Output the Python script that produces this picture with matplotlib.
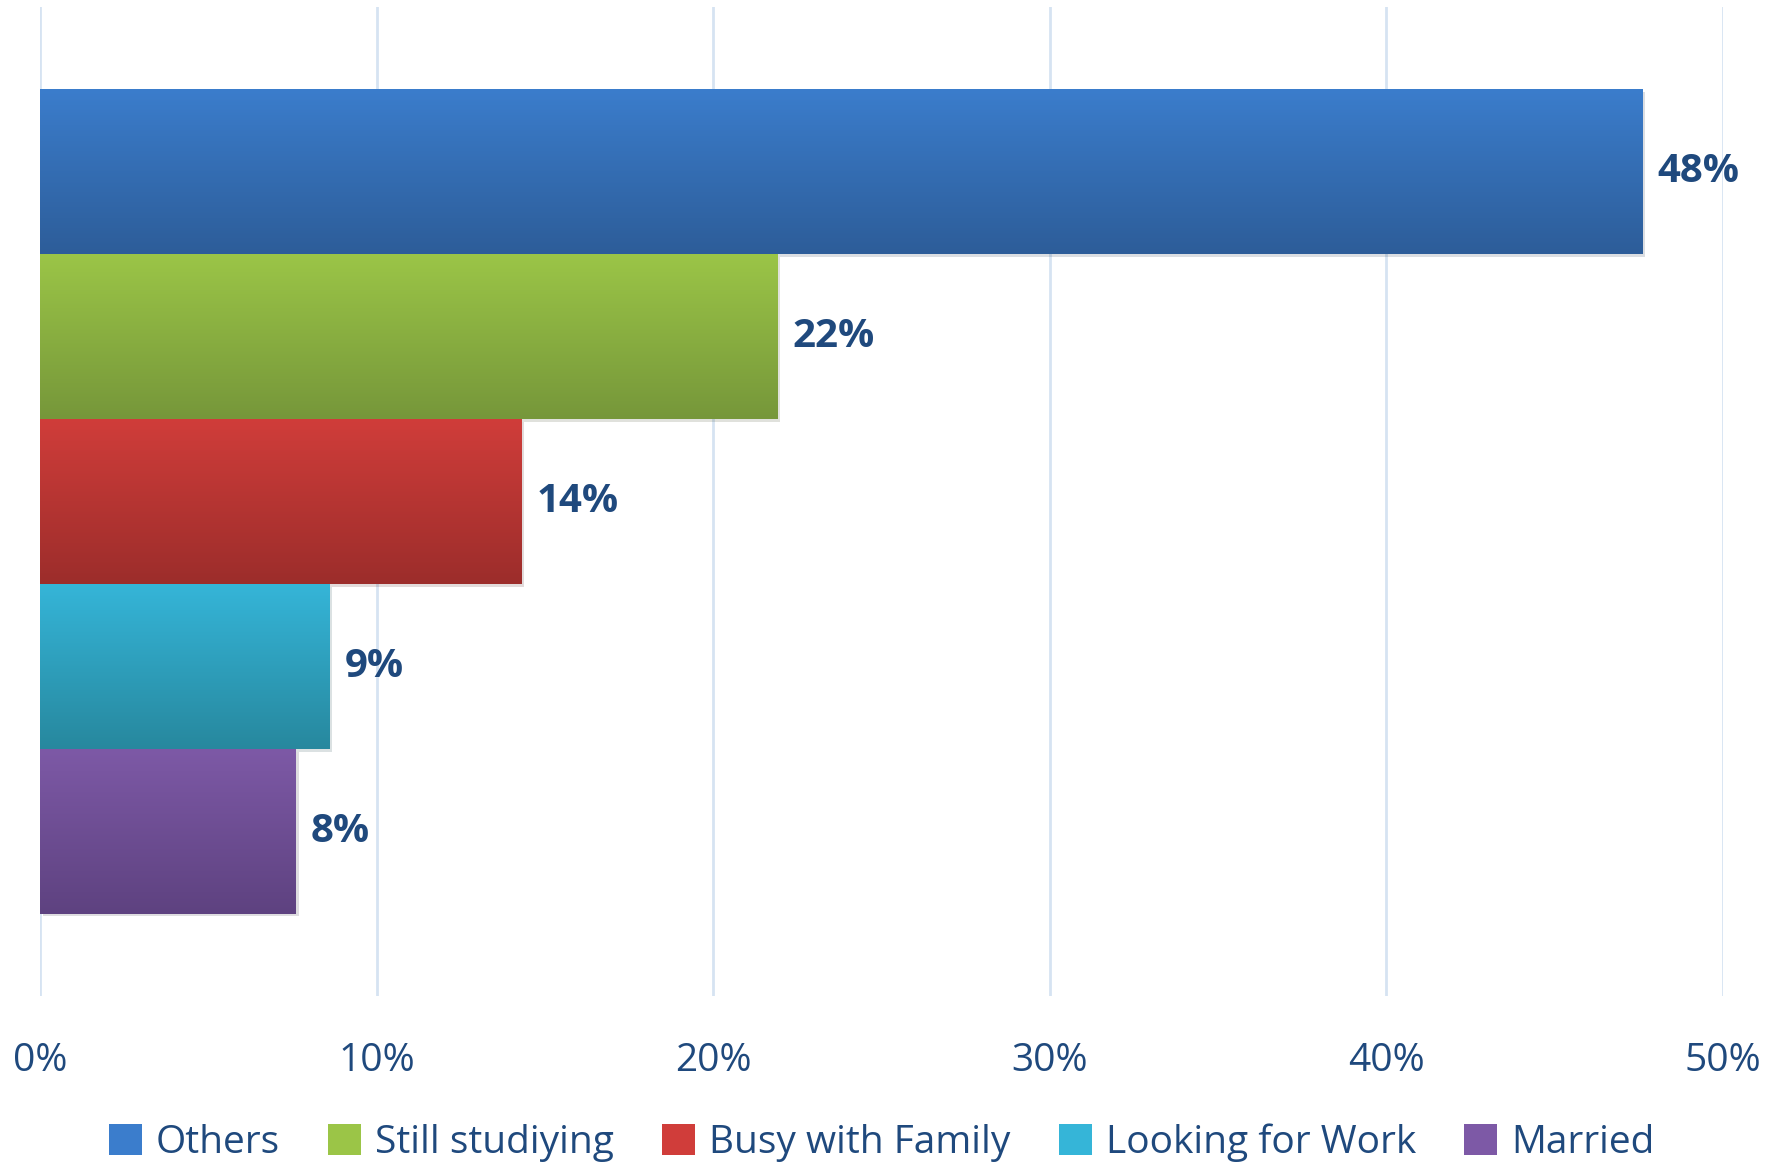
import numpy as np
import matplotlib
matplotlib.use("Agg")
from matplotlib import pyplot as plt
from matplotlib import patheffects as pe
from matplotlib.colors import LinearSegmentedColormap
from matplotlib.ticker import FuncFormatter

plt.rcParams["font.family"] = ["Open Sans", "DejaVu Sans"]

series = ["Others", "Still studiying", "Busy with Family", "Looking for Work", "Married"]
values = [47.6, 21.9, 14.3, 8.6, 7.6]
labels = ["48%", "22%", "14%", "9%", "8%"]
top_colors = ["#3B7DCC", "#9BC547", "#D03D3A", "#35B5D8", "#7D59A6"]
bottom_colors = ["#2D5D99", "#76973A", "#9C2D2B", "#27889E", "#5E4280"]
xticks = [0, 10, 20, 30, 40, 50]

text_color = "#1F497D"

fig = plt.figure(figsize=(17.87, 11.63), dpi=100)
ax = fig.add_axes([0.0224, 0.1436, 0.9418, 0.8504])

ypos = np.arange(len(series))
bars = ax.barh(ypos, values, height=1.0, color=top_colors, label=series,
               path_effects=[pe.SimplePatchShadow(offset=(2, -2), alpha=0.15), pe.Normal()])

# vertical gradient drawn over every bar
grad = np.linspace(0, 1, 256).reshape(-1, 1)
for bar, c1, c2 in zip(bars, top_colors, bottom_colors):
    cmap = LinearSegmentedColormap.from_list("g", [c1, c2])
    x0, y0 = bar.get_x(), bar.get_y()
    w, h = bar.get_width(), bar.get_height()
    ax.imshow(grad, cmap=cmap, aspect="auto", extent=(x0, x0 + w, y0 + h, y0),
              zorder=bar.get_zorder() + 0.1, interpolation="bicubic")

for bar, lab in zip(bars, labels):
    ax.text(bar.get_width() + 0.45, bar.get_y() + bar.get_height() / 2, lab,
            va="center", ha="left", fontsize=29, fontweight="bold", color=text_color)

ax.set_xlim(0, 50)
ax.set_ylim(5.0, -1.0)
ax.set_xticks(xticks)
ax.xaxis.set_major_formatter(FuncFormatter(lambda v, p: f"{v:.0f}%"))
ax.set_yticks([])
ax.tick_params(axis="x", length=0, pad=33, labelsize=28, labelcolor=text_color)
for s in ax.spines.values():
    s.set_visible(False)
ax.set_axisbelow(True)
ax.grid(axis="x", color="#D6E3F2", linewidth=2)

leg = ax.legend(loc="upper center", bbox_to_anchor=(0.5, -0.093), ncol=5, frameon=False,
                fontsize=28, labelcolor=text_color, handlelength=0.85, handleheight=0.85,
                handletextpad=0.35, columnspacing=1.25)
for h in leg.legend_handles:
    h.set_path_effects([])

fig.savefig("out.png", dpi=100)
